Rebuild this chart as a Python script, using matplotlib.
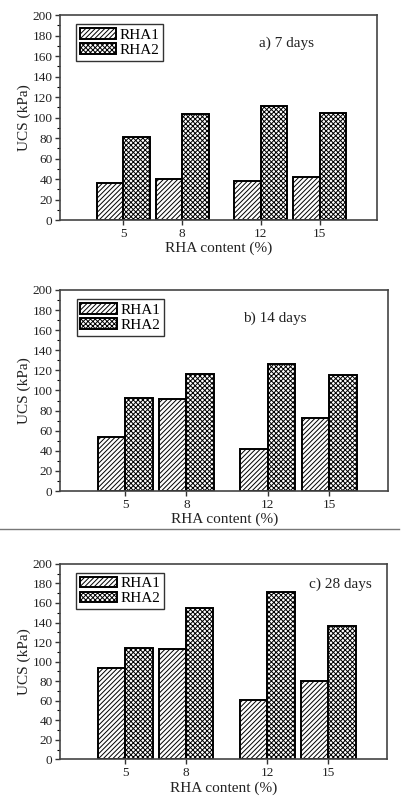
import matplotlib
matplotlib.use('Agg')
import matplotlib.pyplot as plt
from matplotlib.lines import Line2D
from matplotlib.ticker import MultipleLocator

plt.rcParams['font.family'] = ['Liberation Serif', 'DejaVu Serif']
plt.rcParams['hatch.linewidth'] = 0.7

# RHA content (%)
rha_content = [5, 8, 12, 15]

# UCS (kPa) per curing period
rha1_7 = [36, 40, 38, 42]
rha2_7 = [81, 104, 111, 105]
rha1_14 = [54, 92, 42, 73]
rha2_14 = [93, 116, 126, 115]
rha1_28 = [93, 113, 61, 80]
rha2_28 = [114, 155, 171, 136]

panel_titles = ['a) 7 days', 'b) 14 days', 'c) 28 days']


def draw_panel(ax, rha1, rha2, title, title_xy):
    w = 1.35
    ax.bar(rha_content, rha1, width=-w, align='edge', color='white',
           edgecolor='black', linewidth=1.4, hatch='///////', label='RHA1')
    ax.bar(rha_content, rha2, width=w, align='edge', color='white',
           edgecolor='black', linewidth=1.4, hatch='xxxxxxx', label='RHA2')

    ax.set_xlim(1.8, 17.9)
    ax.set_ylim(0, 200)
    ax.set_xticks(rha_content)
    ax.yaxis.set_major_locator(MultipleLocator(20))
    ax.yaxis.set_minor_locator(MultipleLocator(10))
    ax.tick_params(axis='both', which='major', direction='out', length=3.5,
                   width=1, labelsize=9.5, pad=2, colors='#333333',
                   labelcolor='#222222')
    ax.tick_params(axis='y', which='minor', direction='out', length=2, width=0.8)
    for s in ax.spines.values():
        s.set_linewidth(1.2)
        s.set_color('#444444')

    ax.set_xlabel('RHA content (%)', fontsize=11, labelpad=1.5, color='#222222')
    ax.set_ylabel('UCS (kPa)', fontsize=11, labelpad=1, color='#222222')

    leg = ax.legend(loc='upper left', bbox_to_anchor=(0.05, 0.955),
                    borderaxespad=0, fontsize=11, fancybox=False,
                    edgecolor='#333333', handlelength=2.4, handleheight=0.7,
                    handletextpad=0.2, labelspacing=0.1, borderpad=0.25,
                    framealpha=1)
    leg.get_frame().set_linewidth(1.0)

    ax.text(title_xy[0], title_xy[1], title, transform=ax.transAxes,
            ha='center', va='center', fontsize=11, color='#222222')


fig = plt.figure(figsize=(4.01, 8.01), dpi=100)

ax_a = fig.add_axes([0.150, 0.7253, 0.790, 0.2557])
ax_b = fig.add_axes([0.150, 0.3870, 0.818, 0.2510])
ax_c = fig.add_axes([0.150, 0.0520, 0.815, 0.2440])

draw_panel(ax_a, rha1_7, rha2_7, panel_titles[0], (0.716, 0.863))
draw_panel(ax_b, rha1_14, rha2_14, panel_titles[1], (0.655, 0.86))
draw_panel(ax_c, rha1_28, rha2_28, panel_titles[2], (0.856, 0.895))

# separator line between panels b and c
fig.add_artist(Line2D([0.0, 0.995], [0.3396, 0.3396], color='#777777',
                      linewidth=1.0, transform=fig.transFigure))

fig.savefig('out.png', dpi=100)
